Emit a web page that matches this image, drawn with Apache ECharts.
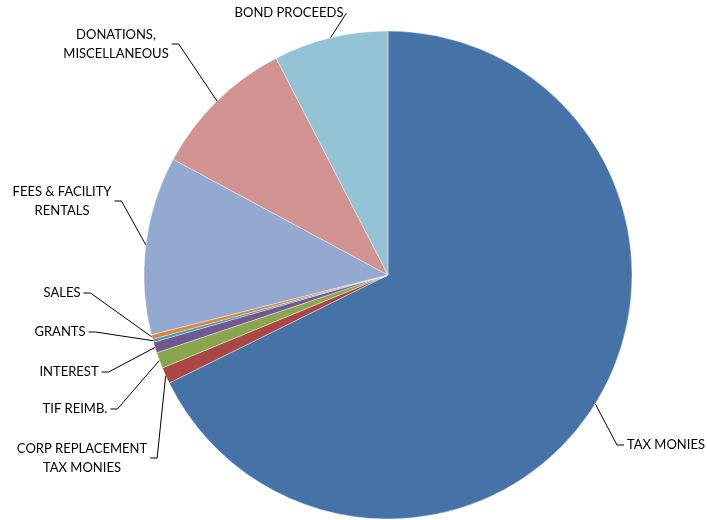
<!DOCTYPE html>
<html>
<head>
<meta charset="utf-8">
<script src="https://cdn.jsdelivr.net/npm/echarts@6/dist/echarts.min.js"></script>
<style>html,body{margin:0;padding:0;background:#fff;}#c{width:707px;height:520px;}</style>
</head>
<body>
<div id="c"></div>
<script>
// Categories (clockwise from 12 o'clock)
var categories = [
  'TAX MONIES',
  'CORP REPLACEMENT\nTAX MONIES',
  'TIF REIMB.',
  'INTEREST',
  'GRANTS',
  'SALES',
  'FEES & FACILITY\nRENTALS',
  'DONATIONS,\nMISCELLANEOUS',
  'BOND PROCEEDS'
];
// Share of revenue (%)
var shares = [67.7, 1.08, 1.06, 0.72, 0.2, 0.3, 11.8, 9.56, 7.58];
var sliceColors = ['#4572A7', '#AA4643', '#89A54E', '#71588F', '#4198AF', '#DB843D', '#93A9CF', '#D19392', '#93C3D4'];

// Label placement (label centre / anchor) and alignment
var labelPlace = [
  {x: 624, y: 445, align: 'left'},
  {x: 82,  y: 458, align: 'center'},
  {x: 75,  y: 409, align: 'center'},
  {x: 69,  y: 372, align: 'center'},
  {x: 60,  y: 332, align: 'center'},
  {x: 62,  y: 293, align: 'center'},
  {x: 62,  y: 201, align: 'center'},
  {x: 116, y: 44,  align: 'center'},
  {x: 289, y: 13,  align: 'center'}
];

var data = categories.map(function (name, i) {
  return { name: name, value: shares[i], itemStyle: { color: sliceColors[i] } };
});

var chart = echarts.init(document.getElementById('c'), null, { renderer: 'canvas' });
chart.setOption({
  animation: false,
  backgroundColor: '#ffffff',
  series: [{
    type: 'pie',
    center: [388, 275],
    radius: 244,
    startAngle: 90,
    clockwise: true,
    avoidLabelOverlap: false,
    data: data,
    itemStyle: { borderColor: '#ffffff', borderWidth: 0.4 },
    label: {
      show: true,
      position: 'outside',
      formatter: '{b}',
      fontFamily: 'Lato',
      fontSize: 13,
      lineHeight: 19,
      color: '#000000',
      align: 'center',
      padding: [0, 3]
    },
    labelLine: {
      show: true,
      length: 10,
      length2: 7,
      lineStyle: { color: '#000000', width: 1 }
    },
    labelLayout: function (p) {
      var lp = labelPlace[p.dataIndex];
      return { x: lp.x, y: lp.y, align: lp.align, verticalAlign: 'middle', moveOverlap: false, hideOverlap: false };
    },
    emphasis: { disabled: true }
  }]
});
</script>
</body>
</html>
